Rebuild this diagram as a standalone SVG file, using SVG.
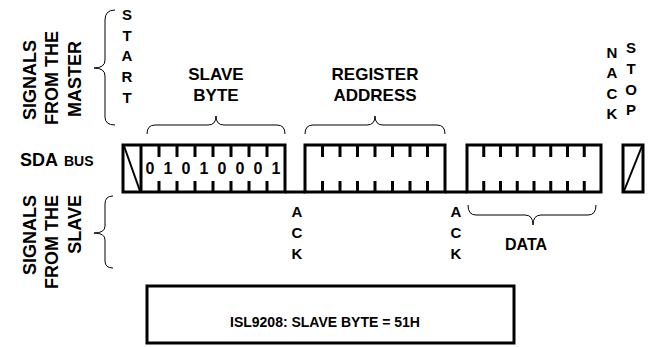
<svg xmlns="http://www.w3.org/2000/svg" width="649" height="347" viewBox="0 0 649 347">
<style>
text{font-family:"Liberation Sans",Arial,sans-serif;font-weight:bold;fill:#000}
.lb{font-size:17px;text-anchor:middle}
.rot{font-size:18px}
.v{font-size:15px;text-anchor:middle}
.bus{fill:none;stroke:#000;stroke-width:3}
.tk{stroke:#000;stroke-width:3}
.br{fill:none;stroke:#000;stroke-width:1}
</style>
<rect width="649" height="347" fill="#fff"/>
<g id="master-label">
<text class="rot" text-anchor="middle" transform="translate(36,80) rotate(-90)">SIGNALS</text>
<text class="rot" text-anchor="middle" transform="translate(58,78) rotate(-90)">FROM THE</text>
<text class="rot" text-anchor="middle" transform="translate(81,79) rotate(-90)">MASTER</text>
</g>
<g id="slave-label">
<text class="rot" text-anchor="end" transform="translate(36,195) rotate(-90)">SIGNALS</text>
<text class="rot" text-anchor="end" transform="translate(58,195) rotate(-90)">FROM THE</text>
<text class="rot" text-anchor="end" transform="translate(81,195) rotate(-90)">SLAVE</text>
</g>
<g id="start">
<text class="v" x="127" y="20">S</text><text class="v" x="127" y="41">T</text><text class="v" x="127" y="61">A</text><text class="v" x="127" y="82">R</text><text class="v" x="127" y="103">T</text>
</g>
<g id="nack">
<text class="v" x="612" y="58">N</text><text class="v" x="612" y="78">A</text><text class="v" x="612" y="99">C</text><text class="v" x="612" y="119">K</text>
</g>
<g id="stop">
<text class="v" x="631" y="53">S</text><text class="v" x="631" y="74">T</text><text class="v" x="631" y="95">O</text><text class="v" x="631" y="115">P</text>
</g>
<g id="slave-byte-label"><text class="lb" x="216" y="80">SLAVE</text><text class="lb" x="216" y="101">BYTE</text></g>
<g id="register-label"><text class="lb" x="375" y="80">REGISTER</text><text class="lb" x="375" y="101">ADDRESS</text></g>
<g id="ack1"><text class="v" x="297" y="217">A</text><text class="v" x="297" y="238">C</text><text class="v" x="297" y="259">K</text></g>
<g id="ack2"><text class="v" x="456" y="217">A</text><text class="v" x="456" y="238">C</text><text class="v" x="456" y="259">K</text></g>
<g id="data-label"><text x="526" y="250" style="font-size:16px;text-anchor:middle">DATA</text></g>
<g id="sda-label"><text x="20" y="166" style="font-size:18px">SDA</text><text x="64" y="166" style="font-size:14px">BUS</text></g>
<g id="byte1">
<rect class="bus" x="123" y="145" width="162" height="47"/>
<line class="tk" x1="141" y1="145" x2="141" y2="192"/>
<line class="br" style="stroke-width:2" x1="124" y1="146" x2="140" y2="191"/>
<path class="tk" d="M159,145v12M177,145v12M195,145v12M213,145v12M231,145v12M249,145v12M267,145v12M159,192v-11M177,192v-11M195,192v-11M213,192v-11M231,192v-11M249,192v-11M267,192v-11"/>
<g style="font-size:16px;text-anchor:middle">
<text x="150" y="174">0</text><text x="168" y="174">1</text><text x="186" y="174">0</text><text x="204" y="174">1</text><text x="222" y="174">0</text><text x="240" y="174">0</text><text x="258" y="174">0</text><text x="276" y="174">1</text>
</g>
</g>
<g id="byte2">
<rect class="bus" x="305" y="145" width="140" height="47"/>
<path class="tk" d="M322.5,145v12M340,145v12M357.5,145v12M375,145v12M392.5,145v12M410,145v12M427.5,145v12M322.5,192v-11M340,192v-11M357.5,192v-11M375,192v-11M392.5,192v-11M410,192v-11M427.5,192v-11"/>
</g>
<g id="byte3">
<rect class="bus" x="467" y="145" width="134" height="47"/>
<path class="tk" d="M483.75,145v12M500.5,145v12M517.25,145v12M534,145v12M550.75,145v12M567.5,145v12M584.25,145v12M483.75,192v-11M500.5,192v-11M517.25,192v-11M534,192v-11M550.75,192v-11M567.5,192v-11M584.25,192v-11"/>
</g>
<g id="stop-box">
<rect class="bus" x="623" y="145" width="20" height="47"/>
<line class="br" style="stroke-width:2" x1="624" y1="191" x2="642" y2="146"/>
</g>
<g id="connectors">
<line class="tk" x1="285" y1="192" x2="305" y2="192"/>
<line class="tk" x1="445" y1="192" x2="467" y2="192"/>
<path class="br" d="M115,10Q105,10 105,20L105,60Q105,68 94,68Q105,68 105,76L105,117Q105,125 115,125"/>
<path class="br" d="M113,196Q105,196 105,204L105,226Q105,233 94,233Q105,233 105,240L105,261Q105,268 113,268"/>
<path class="br" d="M147,134Q147,125 155,125L208,125Q216,125 216,116Q216,125 224,125L277,125Q285,125 285,134"/>
<path class="br" d="M305,134Q305,125 313,125L367,125Q375,125 375,116Q375,125 383,125L437,125Q445,125 445,134"/>
<path class="br" d="M468,205Q468,215 476,215L525,215Q533,215 533,225Q533,215 541,215L588,215Q596,215 596,205"/>
</g>
<g id="note">
<rect class="bus" x="147" y="286" width="367" height="57"/>
<text x="325" y="327" style="font-size:14px;text-anchor:middle">ISL9208: SLAVE BYTE = 51H</text>
</g>
</svg>
